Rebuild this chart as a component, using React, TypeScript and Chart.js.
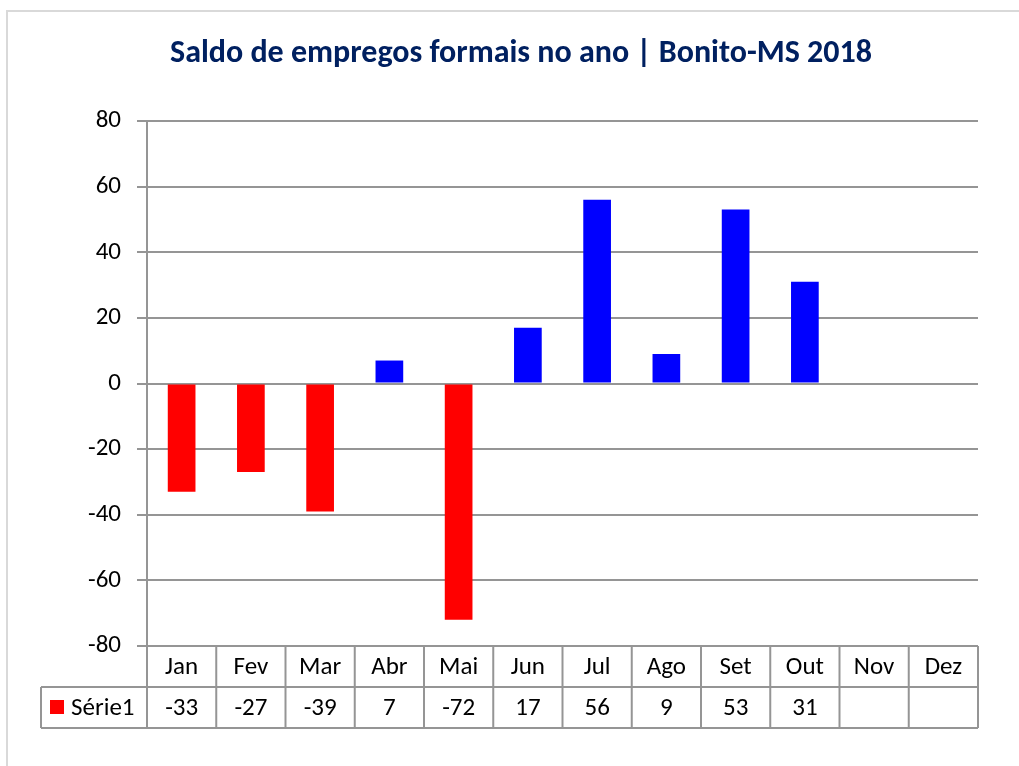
import React, { useEffect, useRef } from "react";
import { Chart, registerables } from "chart.js";

Chart.register(...registerables);

const chartTitle = "Saldo de empregos formais no ano | Bonito-MS 2018";
const seriesName = "Série1";
const months = ["Jan", "Fev", "Mar", "Abr", "Mai", "Jun", "Jul", "Ago", "Set", "Out", "Nov", "Dez"];
const saldo: (number | null)[] = [-33, -27, -39, 7, -72, 17, 56, 9, 53, 31, null, null];
const yMin = -80;
const yMax = 80;
const yStep = 20;

const FONT = "Carlito, Calibri, Lato, 'Noto Sans', sans-serif";
const NEG = "#FF0000";
const POS = "#0000FF";
const LINE = "#959595";
const TEXT_SIZE = 25;

const tablePlugin = {
  id: "dataTable",
  afterDraw(chart: any) {
    const { ctx, chartArea, scales } = chart;
    const x = scales.x;
    const top = chartArea.bottom;
    const rowH = 41;
    const r1 = top + rowH;
    const r2 = top + 2 * rowH;
    const legendLeft = 41;
    const n = months.length;
    const half = (x.getPixelForValue(1) - x.getPixelForValue(0)) / 2;
    ctx.save();
    ctx.strokeStyle = LINE;
    ctx.lineWidth = 2;
    ctx.beginPath();
    ctx.moveTo(chartArea.left, top);
    ctx.lineTo(chartArea.right, top);
    ctx.moveTo(legendLeft, r1);
    ctx.lineTo(chartArea.right, r1);
    ctx.moveTo(legendLeft, r2);
    ctx.lineTo(chartArea.right, r2);
    ctx.moveTo(legendLeft, r1);
    ctx.lineTo(legendLeft, r2);
    for (let i = 0; i <= n; i++) {
      const bx = i < n ? x.getPixelForValue(i) - half : x.getPixelForValue(n - 1) + half;
      ctx.moveTo(bx, top);
      ctx.lineTo(bx, r2);
    }
    ctx.stroke();

    ctx.fillStyle = "#000000";
    ctx.font = `${TEXT_SIZE}px ${FONT}`;
    ctx.textAlign = "center";
    ctx.textBaseline = "middle";
    for (let i = 0; i < n; i++) {
      const cx = x.getPixelForValue(i);
      ctx.fillText(months[i], cx, top + rowH / 2 + 1);
      const v = saldo[i];
      if (v !== null && v !== undefined) ctx.fillText(String(v), cx, r1 + rowH / 2 + 1);
    }
    ctx.fillStyle = NEG;
    ctx.fillRect(50, r1 + 13, 14, 14);
    ctx.fillStyle = "#000000";
    ctx.textAlign = "left";
    ctx.fillText(seriesName, 71, r1 + rowH / 2 + 1);
    ctx.restore();
  },
};

export default function App() {
  const ref = useRef<HTMLCanvasElement>(null);
  useEffect(() => {
    if (!ref.current) return;
    const chart = new Chart(ref.current, {
      type: "bar",
      data: {
        labels: months,
        datasets: [
          {
            label: seriesName,
            data: saldo,
            backgroundColor: saldo.map((v) => ((v ?? 0) < 0 ? NEG : POS)),
            categoryPercentage: 1,
            barPercentage: 0.4,
          },
        ],
      },
      options: {
        responsive: false,
        animation: false,
        layout: { padding: { left: 64, right: 41, top: 0, bottom: 120 } },
        plugins: {
          legend: { display: false },
          tooltip: { enabled: false },
          title: {
            display: true,
            text: chartTitle,
            color: "#002060",
            font: { family: FONT, size: 32, weight: "bold" },
            padding: { top: 35, bottom: 47.6 },
          },
        },
        scales: {
          x: { display: false },
          y: {
            min: yMin,
            max: yMax,
            afterFit: (s: any) => {
              s.width = 83;
            },
            ticks: {
              stepSize: yStep,
              padding: 16,
              color: "#000000",
              font: { family: FONT, size: TEXT_SIZE },
            },
            grid: { color: LINE, lineWidth: 2, tickLength: 10 },
            border: { color: LINE, width: 2 },
          },
        },
      },
      plugins: [tablePlugin],
    });
    return () => chart.destroy();
  }, []);

  return (
    <div
      style={{
        position: "absolute",
        left: 0,
        top: 0,
        width: 1019,
        height: 766,
        overflow: "hidden",
        background: "#ffffff",
      }}
    >
      <canvas ref={ref} width={1019} height={766} style={{ display: "block" }} />
      <div
        style={{
          position: "absolute",
          left: 6,
          top: 10,
          width: 1200,
          height: 1000,
          borderTop: "2px solid #d9d9d9",
          borderLeft: "2px solid #d9d9d9",
          pointerEvents: "none",
        }}
      />
    </div>
  );
}
